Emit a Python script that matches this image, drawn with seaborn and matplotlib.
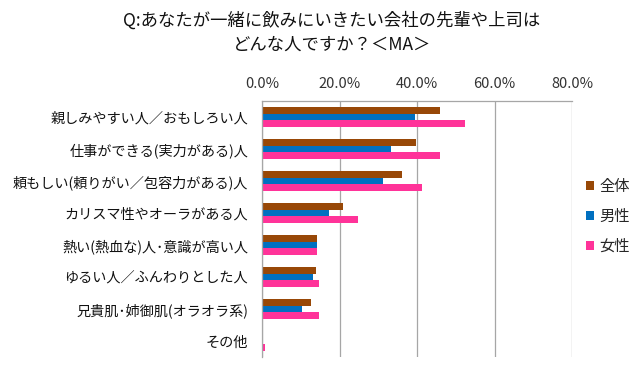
import matplotlib
matplotlib.use("Agg")
import matplotlib.pyplot as plt
import seaborn as sns
import pandas as pd
from matplotlib.ticker import FuncFormatter

categories = [
    "親しみやすい人／おもしろい人",
    "仕事ができる(実力がある)人",
    "頼もしい(頼りがい／包容力がある)人",
    "カリスマ性やオーラがある人",
    "熱い(熱血な)人･意識が高い人",
    "ゆるい人／ふんわりとした人",
    "兄貴肌･姉御肌(オラオラ系)",
    "その他",
]
groups = ["全体", "男性", "女性"]
total = [45.9, 39.7, 36.2, 20.9, 14.3, 13.9, 12.7, 0.25]
male = [39.4, 33.3, 31.1, 17.2, 14.3, 13.2, 10.4, 0.0]
female = [52.4, 45.9, 41.2, 24.7, 14.3, 14.7, 14.7, 0.8]
xticks = [0, 20, 40, 60, 80]
colors = ["#984807", "#0070C0", "#FF3399"]
title = "Q:あなたが一緒に飲みにいきたい会社の先輩や上司は\nどんな人ですか？＜MA＞"

rows = []
for g, vals in zip(groups, [total, male, female]):
    for c, v in zip(categories, vals):
        rows.append({"category": c, "group": g, "value": v})
df = pd.DataFrame(rows)

sns.set_theme(style="white")
plt.rcParams["font.family"] = ["Noto Sans CJK JP", "DejaVu Sans"]

fig = plt.figure(figsize=(6.4, 3.66), dpi=100)
ax = fig.add_axes([262 / 640, 1 - 357 / 366, 310 / 640, 256 / 366])

sns.barplot(data=df, y="category", x="value", hue="group", order=categories,
            hue_order=groups, palette=colors, orient="h", width=0.65,
            saturation=1, ax=ax, errorbar=None, linewidth=0)

ax.set_xlim(0, 80)
ax.set_ylim(len(categories) - 0.5, -0.5)
ax.set_xticks(xticks)
ax.xaxis.set_major_formatter(FuncFormatter(lambda v, p: f"{v:.1f}%"))
ax.xaxis.tick_top()
ax.tick_params(axis="x", length=0, pad=7, labelsize=10.5, colors="#333333")
ax.tick_params(axis="y", length=0, pad=10, labelsize=10.2, colors="#111111")
ax.set_xlabel("")
ax.set_ylabel("")
ax.grid(axis="x", color="#A6A6A6", linewidth=0.9)
ax.set_axisbelow(True)
for s in ["bottom", "right"]:
    ax.spines[s].set_visible(False)
for s in ["top", "left"]:
    ax.spines[s].set_color("#A6A6A6")
    ax.spines[s].set_linewidth(0.9)

handles, labels = ax.get_legend_handles_labels()
ax.legend_.remove()
fig.legend(handles, labels, loc="center left", bbox_to_anchor=(586 / 640, 1 - 216.5 / 366),
           frameon=False, fontsize=11, handlelength=0.55, handleheight=0.55,
           handletextpad=0.3, labelspacing=0.85, borderpad=0, borderaxespad=0)

fig.text(332 / 640, 1 - 32.5 / 366, title, ha="center", va="center",
         fontsize=12.5, linespacing=1.4, color="#111111")

fig.savefig("out.png", dpi=100)
